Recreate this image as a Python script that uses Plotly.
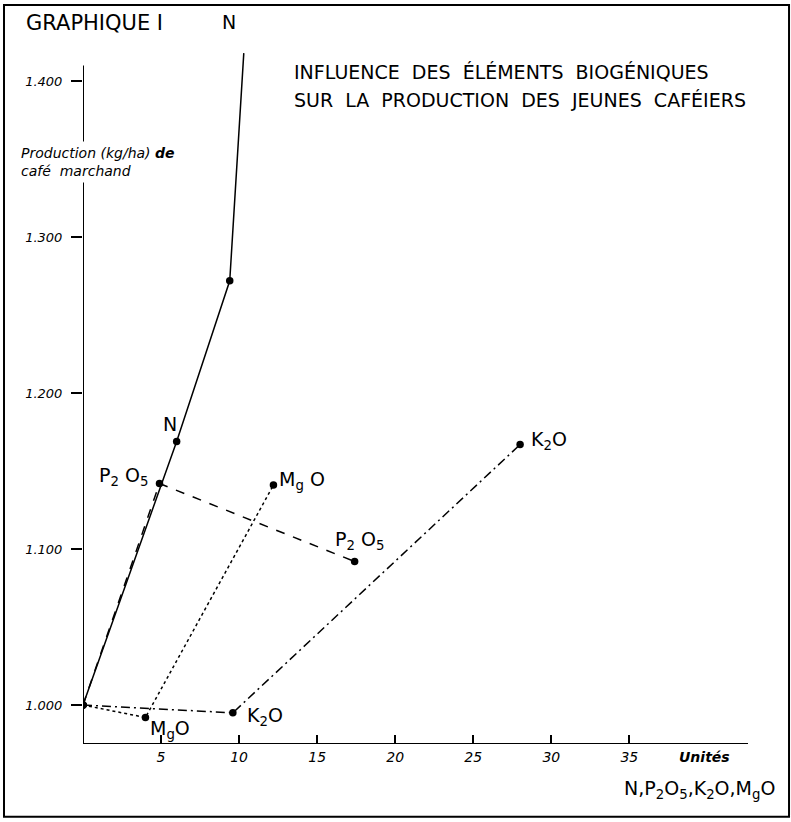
import plotly.graph_objects as go

# Data (units of element, production kg/ha)
n_x = [0, 6.0, 9.4, 10.3]
n_y = [1000, 1169, 1272, 1418]
p_x = [0, 4.9, 17.4]
p_y = [1000, 1142, 1092]
mg_x = [0, 4.0, 12.2]
mg_y = [1000, 992, 1141]
k_x = [0, 9.6, 28.0]
k_y = [1000, 995, 1167]

y_ticks = [1000, 1100, 1200, 1300, 1400]
y_ticktext = ["1.000", "1.100", "1.200", "1.300", "1.400"]
x_ticks = [5, 10, 15, 20, 25, 30, 35]
x_ticktext = ["5", "10", "15", "20", "25", "30", "35"]

series = [
    ("N", n_x, n_y, "solid", len(n_x) - 1),
    ("P2O5", p_x, p_y, "dash", len(p_x)),
    ("MgO", mg_x, mg_y, "dot", len(mg_x)),
    ("K2O", k_x, k_y, "9px,4px,2px,4px", len(k_x)),
]

fig = go.Figure()
for name, xs, ys, dash, nm in series:
    fig.add_trace(go.Scatter(x=xs, y=ys, mode="lines", name=name,
                             line=dict(color="black", width=1.5, dash=dash),
                             showlegend=False, hoverinfo="skip"))
    fig.add_trace(go.Scatter(x=xs[:nm], y=ys[:nm], mode="markers", name=name,
                             marker=dict(color="black", size=7.5),
                             showlegend=False))

lab_font = dict(family="DejaVu Sans", size=19, color="black")
labels = [
    (n_x[3], n_y[3], "N", -15, 31),
    (n_x[1], n_y[1], "N", -7, 17),
    (p_x[1], p_y[1], "P<sub>2</sub> O<sub>5</sub>", -36, 7),
    (p_x[2], p_y[2], "P<sub>2</sub> O<sub>5</sub>", 5, 21),
    (mg_x[2], mg_y[2], "M<sub>g</sub> O", 29, 5),
    (mg_x[1], mg_y[1], "M<sub>g</sub>O", 25, -12),
    (k_x[2], k_y[2], "K<sub>2</sub>O", 29, 4),
    (k_x[1], k_y[1], "K<sub>2</sub>O", 32, -4),
]
for x, y, t, dx, dy in labels:
    fig.add_annotation(x=x, y=y, text=t, showarrow=False, xshift=dx, yshift=dy,
                       font=lab_font)

# axis lines
fig.add_shape(type="line", x0=0, x1=0, y0=975, y1=1410, xref="x", yref="y",
              line=dict(color="black", width=2))
fig.add_shape(type="line", x0=0, x1=42.6, y0=975, y1=975, xref="x", yref="y",
              line=dict(color="black", width=2))
# frame
fig.add_shape(type="rect", xref="paper", yref="paper",
              x0=-0.1188, x1=1.0617, y0=-0.105, y1=1.0648,
              line=dict(color="black", width=2))

fig.add_annotation(xref="paper", yref="paper", x=-0.089, y=1.039, xanchor="left",
                   yanchor="middle", showarrow=False, text="GRAPHIQUE I",
                   font=dict(family="DejaVu Sans", size=21, color="black"))
title_font = dict(family="DejaVu Sans", size=19, color="black")
fig.add_annotation(xref="paper", yref="paper", x=0.315, y=0.968, xanchor="left",
                   yanchor="middle", showarrow=False,
                   text="INFLUENCE&nbsp; DES&nbsp; ÉLÉMENTS&nbsp; BIOGÉNIQUES",
                   font=title_font)
fig.add_annotation(xref="paper", yref="paper", x=0.315, y=0.928, xanchor="left",
                   yanchor="middle", showarrow=False,
                   text="SUR&nbsp; LA&nbsp; PRODUCTION&nbsp; DES&nbsp; JEUNES&nbsp; CAFÉIERS",
                   font=title_font)
fig.add_annotation(xref="paper", yref="paper", x=-0.1, y=0.8386, xanchor="left",
                   yanchor="middle", showarrow=False, align="left",
                   text="Production (kg/ha) <b>de</b><br>café  marchand",
                   bgcolor="white", borderpad=3,
                   font=dict(family="DejaVu Sans", size=14, color="black", style="italic"))
fig.add_annotation(xref="paper", yref="paper", x=0.893, y=-0.0187, xanchor="left",
                   yanchor="middle", showarrow=False, text="<b>Unités</b>",
                   font=dict(family="DejaVu Sans", size=14, color="black", style="italic"))
fig.add_annotation(xref="paper", yref="paper", x=1.044, y=-0.066, xanchor="right",
                   yanchor="middle", showarrow=False,
                   text="N,P<sub>2</sub>O<sub>5</sub>,K<sub>2</sub>O,M<sub>g</sub>O",
                   font=dict(family="DejaVu Sans", size=19, color="black"))

fig.update_layout(
    width=791, height=822,
    margin=dict(l=83, r=43, t=50, b=78),
    plot_bgcolor="white", paper_bgcolor="white",
    xaxis=dict(range=[0, 42.6], showgrid=False, zeroline=False, showline=False,
               tickvals=x_ticks, ticktext=x_ticktext, ticks="inside", ticklen=9,
               tickwidth=2, tickcolor="black", ticklabelstandoff=3,
               tickfont=dict(family="DejaVu Sans", size=14, color="black", style="italic")),
    yaxis=dict(range=[975, 1420], showgrid=False, zeroline=False, showline=False,
               tickvals=y_ticks, ticktext=y_ticktext, ticks="outside", ticklen=11,
               tickwidth=2, tickcolor="black", ticklabelstandoff=6,
               tickfont=dict(family="DejaVu Sans", size=13, color="black", style="italic")),
)

fig.write_html("out.html")
